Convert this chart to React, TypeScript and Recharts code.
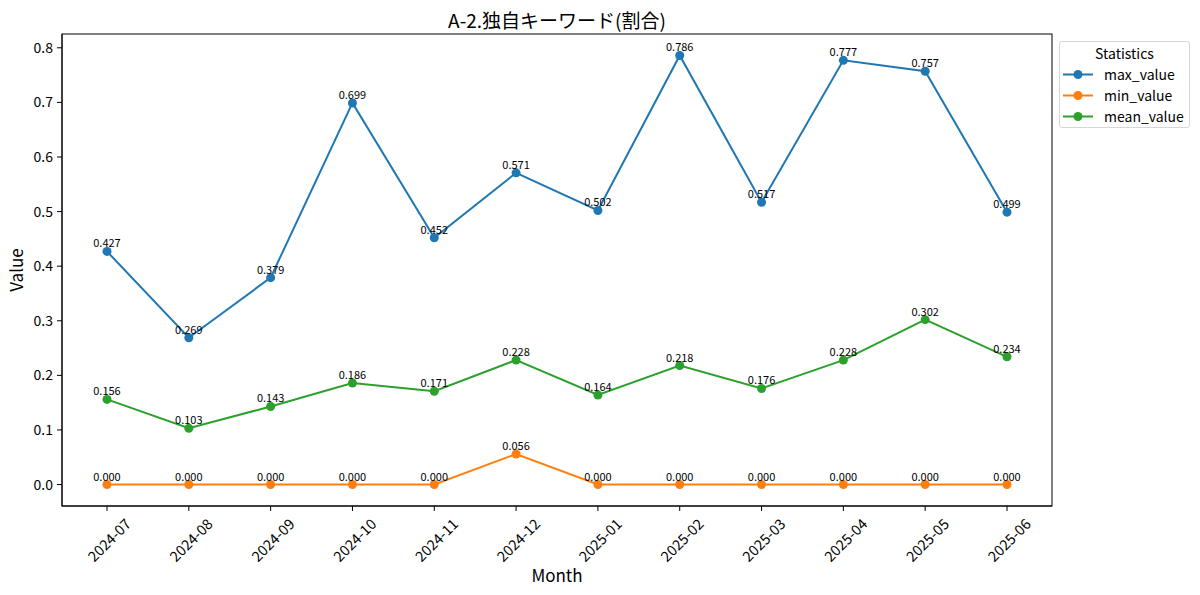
import React from 'react';
import {
  LineChart,
  Line,
  XAxis,
  YAxis,
  Legend,
  LabelList,
  Label,
  Customized,
} from 'recharts';

const months = [
  '2024-07', '2024-08', '2024-09', '2024-10', '2024-11', '2024-12',
  '2025-01', '2025-02', '2025-03', '2025-04', '2025-05', '2025-06',
];
const maxValues = [0.427, 0.269, 0.379, 0.699, 0.452, 0.571, 0.502, 0.786, 0.517, 0.777, 0.757, 0.499];
const minValues = [0, 0, 0, 0, 0, 0.056, 0, 0, 0, 0, 0, 0];
const meanValues = [0.156, 0.103, 0.143, 0.186, 0.171, 0.228, 0.164, 0.218, 0.176, 0.228, 0.302, 0.234];
const yTicks = [0, 0.1, 0.2, 0.3, 0.4, 0.5, 0.6, 0.7, 0.8];

const series = [
  { key: 'max_value', color: '#1f77b4' },
  { key: 'min_value', color: '#ff7f0e' },
  { key: 'mean_value', color: '#2ca02c' },
];

const data = months.map((m, i) => ({
  idx: i,
  month: m,
  max_value: maxValues[i],
  min_value: minValues[i],
  mean_value: meanValues[i],
}));

const FONT = '"Noto Sans CJK JP", "Noto Sans", sans-serif';

// layout
const W = 1200;
const H = 595;
const MARGIN = { top: 34, right: 148, bottom: 29, left: 22 };
const Y_AXIS_W = 40;
const X_AXIS_H = 60;
const PLOT = {
  left: MARGIN.left + Y_AXIS_W,
  top: MARGIN.top,
  width: W - MARGIN.left - Y_AXIS_W - MARGIN.right,
  height: H - MARGIN.top - MARGIN.bottom - X_AXIS_H,
};

const MonthTick = (props: any) => {
  const { x, y, payload } = props;
  const ax = x + 25;
  const ay = y + 12;
  return (
    <text
      x={ax}
      y={ay}
      textAnchor="end"
      fontSize={14.5}
      fill="#000"
      fontFamily={FONT}
      transform={`rotate(-45, ${ax}, ${ay})`}
    >
      {months[payload.value]}
    </text>
  );
};

const valueLabel = (props: any) => {
  const { x, y, value } = props;
  return (
    <text x={x} y={y - 4} textAnchor="middle" fontSize={11} fill="#000" fontFamily={FONT}>
      {Number(value).toFixed(3)}
    </text>
  );
};

const StatsLegend = () => (
  <div
    style={{
      width: 131,
      height: 87,
      boxSizing: 'border-box',
      border: '1px solid #d6d6d6',
      borderRadius: 3,
      background: 'rgba(255,255,255,0.8)',
      fontFamily: FONT,
      fontSize: 14,
      color: '#000',
      paddingTop: 1,
    }}
  >
    <div style={{ textAlign: 'center', height: 21, lineHeight: '21px' }}>Statistics</div>
    {series.map((s) => (
      <div key={s.key} style={{ display: 'flex', alignItems: 'center', height: 21 }}>
        <svg width={44} height={21} style={{ flex: 'none' }}>
          <line x1={3} x2={33} y1={10.5} y2={10.5} stroke={s.color} strokeWidth={2} />
          <circle cx={18} cy={10.5} r={4.5} fill={s.color} />
        </svg>
        <span style={{ lineHeight: '21px' }}>{s.key}</span>
      </div>
    ))}
  </div>
);

const TitleAndFrame = () => (
  <g>
    <rect
      x={PLOT.left}
      y={PLOT.top}
      width={PLOT.width}
      height={PLOT.height}
      fill="none"
      stroke="#000"
      strokeWidth={1}
    />
    <text x={PLOT.left + PLOT.width / 2} y={28} textAnchor="middle" fontSize={19} fill="#000" fontFamily={FONT}>
      A-2.独自キーワード(割合)
    </text>
  </g>
);

export default function App() {
  return (
    <div style={{ position: 'absolute', left: 0, top: 0, width: W, height: H, background: '#fff' }}>
      <LineChart width={W} height={H} data={data} margin={MARGIN} style={{ fontFamily: FONT }}>
        <XAxis
          dataKey="idx"
          type="number"
          domain={[-0.55, 11.55]}
          ticks={months.map((_, i) => i)}
          interval={0}
          height={X_AXIS_H}
          tickSize={5}
          tickMargin={2}
          stroke="#000"
          tick={<MonthTick />}
          allowDataOverflow
        >
          <Label
            content={(p: any) => {
              const vb = p.viewBox;
              return (
                <text x={vb.x + vb.width / 2} y={582} textAnchor="middle" fontSize={17} fill="#000" fontFamily={FONT}>
                  Month
                </text>
              );
            }}
          />
        </XAxis>
        <YAxis
          type="number"
          domain={[-0.0393, 0.8253]}
          ticks={yTicks}
          width={Y_AXIS_W}
          tickSize={5}
          tickMargin={4}
          stroke="#000"
          tick={{ fontSize: 14, fill: '#000', fontFamily: FONT }}
          tickFormatter={(v: number) => v.toFixed(1)}
          allowDataOverflow
        >
          <Label
            content={(p: any) => {
              const vb = p.viewBox;
              const cy = vb.y + vb.height / 2;
              return (
                <text
                  x={23}
                  y={cy}
                  textAnchor="middle"
                  fontSize={17}
                  fill="#000"
                  fontFamily={FONT}
                  transform={`rotate(-90, 23, ${cy})`}
                >
                  Value
                </text>
              );
            }}
          />
        </YAxis>
        <Legend
          layout="vertical"
          align="center"
          verticalAlign="middle"
          wrapperStyle={{ left: 1059, top: 41, width: 131 }}
          content={<StatsLegend />}
        />
        {series.map((s) => (
          <Line
            key={s.key}
            type="linear"
            dataKey={s.key}
            stroke={s.color}
            strokeWidth={2}
            dot={{ r: 4.5, fill: s.color, stroke: s.color, strokeWidth: 0 }}
            activeDot={false}
            isAnimationActive={false}
          >
            <LabelList dataKey={s.key} content={valueLabel} />
          </Line>
        ))}
        <Customized component={<TitleAndFrame />} />
      </LineChart>
    </div>
  );
}
